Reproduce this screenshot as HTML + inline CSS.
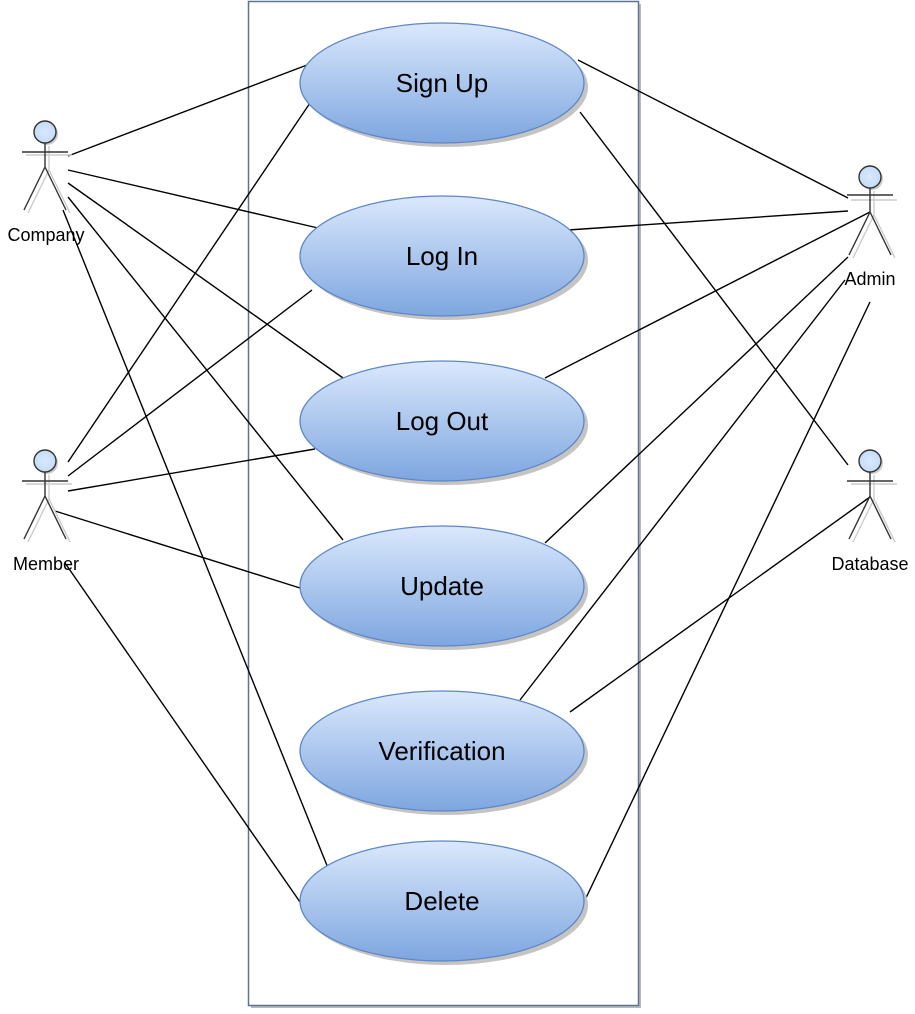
<!DOCTYPE html>
<html><head><meta charset="utf-8"><style>
html,body{margin:0;padding:0;background:#fff;}
svg{display:block;}
text{font-family:"Liberation Sans",Arial,sans-serif;}
</style></head><body>
<svg width="915" height="1014" viewBox="0 0 915 1014" xmlns="http://www.w3.org/2000/svg">
<defs>
<linearGradient id="g" x1="0" y1="0" x2="0" y2="1">
<stop offset="0" stop-color="#dae8fc"/><stop offset="1" stop-color="#7ea6e0"/>
</linearGradient>
<radialGradient id="h" cx="0.5" cy="0.5" r="0.5"><stop offset="0" stop-color="#dae8fc"/><stop offset="1" stop-color="#c5dcf7"/></radialGradient>
</defs>
<rect x="251" y="4" width="390" height="1004" fill="#bbb"/>
<rect x="248.5" y="1.5" width="390" height="1004" fill="#fff" stroke="#5f7290" stroke-width="1.5"/>
<g stroke="#000" stroke-width="1.4" fill="none">
<line x1="68" y1="156" x2="307" y2="65"/>
<line x1="68" y1="170" x2="318" y2="228"/>
<line x1="68" y1="183" x2="343" y2="378"/>
<line x1="68" y1="197" x2="343" y2="540"/>
<line x1="63" y1="210" x2="328" y2="868"/>
<line x1="68" y1="462" x2="310" y2="103"/>
<line x1="68" y1="476" x2="312" y2="290"/>
<line x1="68" y1="491" x2="315" y2="449"/>
<line x1="55" y1="511" x2="300" y2="588"/>
<line x1="65" y1="563" x2="300" y2="902"/>
<line x1="578" y1="60" x2="848" y2="198"/>
<line x1="568" y1="230" x2="848" y2="211"/>
<line x1="545" y1="378" x2="870" y2="212"/>
<line x1="545" y1="543" x2="848" y2="257"/>
<line x1="520" y1="700" x2="845" y2="280"/>
<line x1="585" y1="900" x2="870" y2="302"/>
<line x1="580" y1="112" x2="848" y2="465"/>
<line x1="570" y1="712" x2="870" y2="497"/>
</g>
<g font-size="26" text-anchor="middle">
<ellipse cx="446" cy="87" rx="142" ry="60" fill="#c4c4c4"/>
<ellipse cx="442" cy="83" rx="142" ry="60" fill="url(#g)" stroke="#5f86c4" stroke-width="1.3"/>
<text x="442" y="92">Sign Up</text>
<ellipse cx="446" cy="260" rx="142" ry="60" fill="#c4c4c4"/>
<ellipse cx="442" cy="256" rx="142" ry="60" fill="url(#g)" stroke="#5f86c4" stroke-width="1.3"/>
<text x="442" y="265">Log In</text>
<ellipse cx="446" cy="425" rx="142" ry="60" fill="#c4c4c4"/>
<ellipse cx="442" cy="421" rx="142" ry="60" fill="url(#g)" stroke="#5f86c4" stroke-width="1.3"/>
<text x="442" y="430">Log Out</text>
<ellipse cx="446" cy="590" rx="142" ry="60" fill="#c4c4c4"/>
<ellipse cx="442" cy="586" rx="142" ry="60" fill="url(#g)" stroke="#5f86c4" stroke-width="1.3"/>
<text x="442" y="595">Update</text>
<ellipse cx="446" cy="755" rx="142" ry="60" fill="#c4c4c4"/>
<ellipse cx="442" cy="751" rx="142" ry="60" fill="url(#g)" stroke="#5f86c4" stroke-width="1.3"/>
<text x="442" y="760">Verification</text>
<ellipse cx="446" cy="905" rx="142" ry="60" fill="#c4c4c4"/>
<ellipse cx="442" cy="901" rx="142" ry="60" fill="url(#g)" stroke="#5f86c4" stroke-width="1.3"/>
<text x="442" y="910">Delete</text>
</g>
<g stroke-width="1.4">
<g transform="translate(45,132)">
<path d="M2 13 V37 M-21 22 H25 M2 37 L-19 80 M2 37 L23 80" stroke="#ccc" fill="none" transform="translate(2,1)"/>
<circle cx="2" cy="2" r="11" fill="#ccc" stroke="none"/>
<circle cx="0" cy="0" r="11" fill="url(#h)" stroke="#333"/>
<path d="M0 11 V35 M-23 20 H23 M0 35 L-21 78 M0 35 L21 78" stroke="#333" fill="none"/>
</g>
<text x="46" y="241" font-size="18" text-anchor="middle">Company</text>
<g transform="translate(45,461)">
<path d="M2 13 V37 M-21 22 H25 M2 37 L-19 80 M2 37 L23 80" stroke="#ccc" fill="none" transform="translate(2,1)"/>
<circle cx="2" cy="2" r="11" fill="#ccc" stroke="none"/>
<circle cx="0" cy="0" r="11" fill="url(#h)" stroke="#333"/>
<path d="M0 11 V35 M-23 20 H23 M0 35 L-21 78 M0 35 L21 78" stroke="#333" fill="none"/>
</g>
<text x="46" y="570" font-size="18" text-anchor="middle">Member</text>
<g transform="translate(870,177)">
<path d="M2 13 V37 M-21 22 H25 M2 37 L-19 80 M2 37 L23 80" stroke="#ccc" fill="none" transform="translate(2,1)"/>
<circle cx="2" cy="2" r="11" fill="#ccc" stroke="none"/>
<circle cx="0" cy="0" r="11" fill="url(#h)" stroke="#333"/>
<path d="M0 11 V35 M-23 18 H23 M0 35 L-21 78 M0 35 L21 78" stroke="#333" fill="none"/>
</g>
<text x="870" y="285" font-size="18" text-anchor="middle">Admin</text>
<g transform="translate(870,461)">
<path d="M2 13 V37 M-21 22 H25 M2 37 L-19 80 M2 37 L23 80" stroke="#ccc" fill="none" transform="translate(2,1)"/>
<circle cx="2" cy="2" r="11" fill="#ccc" stroke="none"/>
<circle cx="0" cy="0" r="11" fill="url(#h)" stroke="#333"/>
<path d="M0 11 V35 M-23 20 H23 M0 35 L-21 78 M0 35 L21 78" stroke="#333" fill="none"/>
</g>
<text x="870" y="570" font-size="18" text-anchor="middle">Database</text>
</g>
</svg>
</body></html>
